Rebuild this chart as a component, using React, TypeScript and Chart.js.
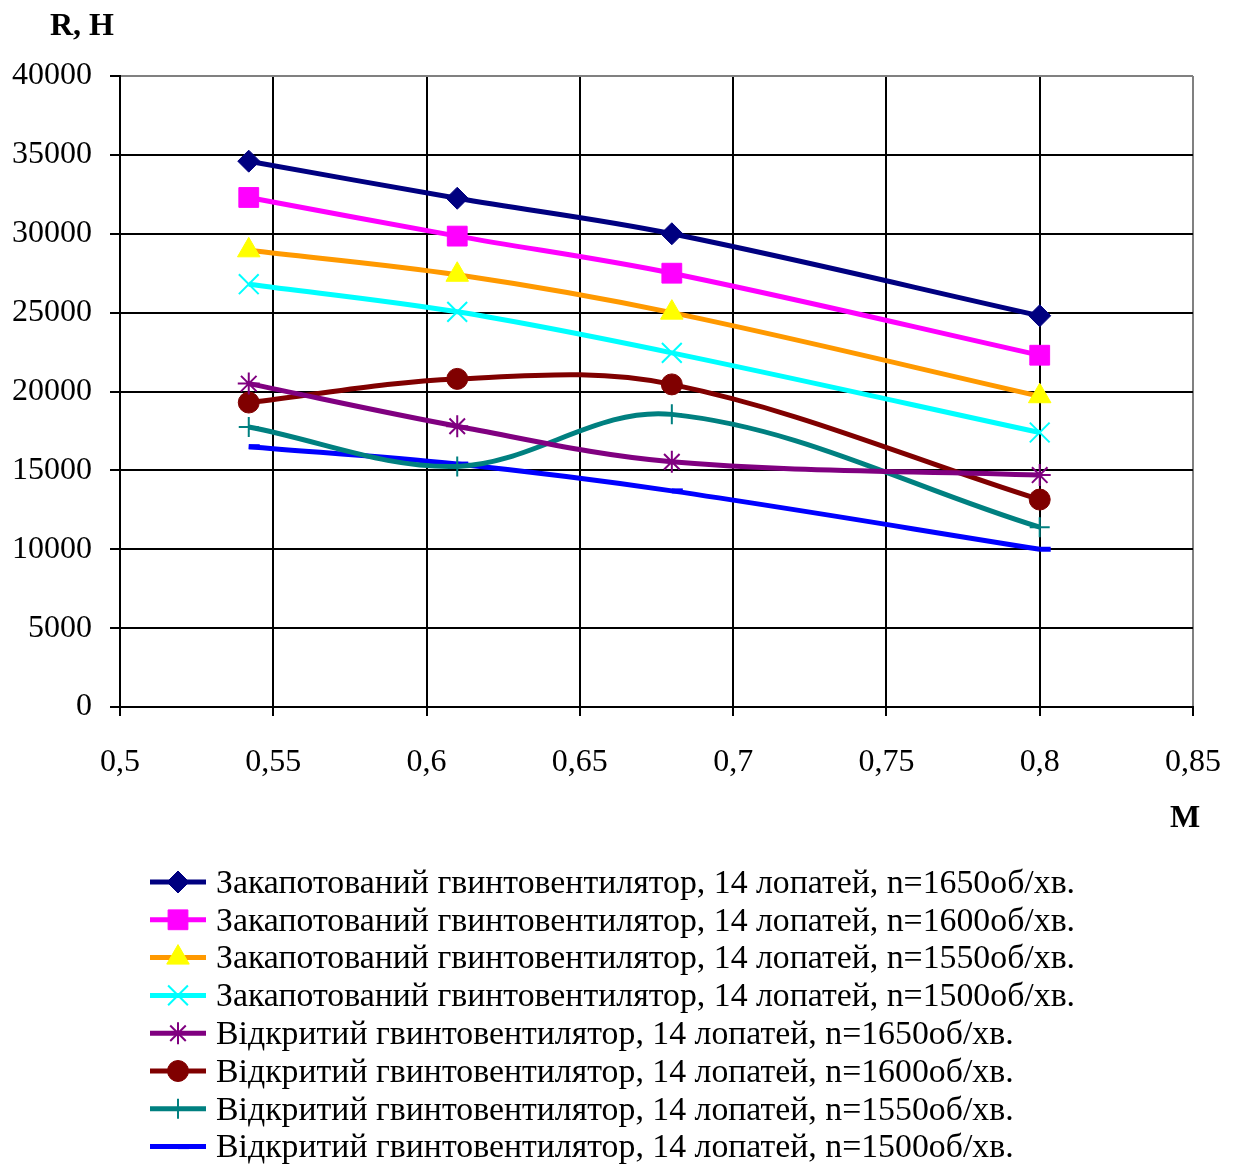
import React, { useEffect, useRef } from 'react';
import { Chart, registerables } from 'chart.js';
import { drawPoint } from 'chart.js/helpers';

Chart.register(...registerables);

// ---- data ----
const machNumbers = [0.542, 0.61, 0.68, 0.8];

const seriesLabels = [
  'Закапотований гвинтовентилятор, 14 лопатей, n=1650об/хв.',
  'Закапотований гвинтовентилятор, 14 лопатей, n=1600об/хв.',
  'Закапотований гвинтовентилятор, 14 лопатей, n=1550об/хв.',
  'Закапотований гвинтовентилятор, 14 лопатей, n=1500об/хв.',
  'Відкритий гвинтовентилятор, 14 лопатей, n=1650об/хв.',
  'Відкритий гвинтовентилятор, 14 лопатей, n=1600об/хв.',
  'Відкритий гвинтовентилятор, 14 лопатей, n=1550об/хв.',
  'Відкритий гвинтовентилятор, 14 лопатей, n=1500об/хв.',
];

const ducted1650 = [34600, 32250, 30000, 24800];
const ducted1600 = [32300, 29850, 27500, 22300];
const ducted1550 = [28950, 27400, 25000, 19700];
const ducted1500 = [26800, 25050, 22450, 17400];
const open1650 = [20500, 17800, 15550, 14700];
const open1600 = [19300, 20800, 20450, 13150];
const open1550 = [17750, 15250, 18550, 11400];
const open1500 = [16500, 15400, 13700, 10000];

const seriesValues = [ducted1650, ducted1600, ducted1550, ducted1500, open1650, open1600, open1550, open1500];

const lineColors = ['#000080', '#FF00FF', '#FF9900', '#00FFFF', '#800080', '#800000', '#008080', '#0000FF'];
const markerFill = ['#000080', '#FF00FF', '#FFFF00', '#00FFFF', '#800080', '#800000', '#008080', '#0000FF'];
const markerStyles = ['rectRot', 'rect', 'triangle', 'crossRot', 'star', 'circle', 'cross', 'dash'];
const markerRadius = [11, 14, 13, 14, 11, 10.5, 10, 11];
const markerBorder = [1, 1, 1, 2, 2, 1, 2, 5];

const yTitle = 'R, H';
const xTitle = 'M';

const FONT = '"Liberation Serif", "Times New Roman", serif';

const overlayPlugin = {
  id: 'overlay',
  afterDraw(chart: any) {
    const ctx = chart.ctx;
    ctx.save();
    // axis titles
    ctx.fillStyle = '#000';
    ctx.font = `bold 32px ${FONT}`;
    ctx.textAlign = 'center';
    ctx.textBaseline = 'middle';
    ctx.fillText(yTitle, 82, 27);
    ctx.fillText(xTitle, 1185, 819);
    // legend
    chart.data.datasets.forEach((ds: any, i: number) => {
      const y = 882 + i * 37.8;
      ctx.strokeStyle = ds.borderColor;
      ctx.lineWidth = 5;
      ctx.lineCap = 'butt';
      ctx.beginPath();
      ctx.moveTo(150, y);
      ctx.lineTo(206, y);
      ctx.stroke();
      ctx.fillStyle = ds.pointBackgroundColor;
      ctx.strokeStyle = ds.pointBorderColor;
      ctx.lineWidth = ds.pointBorderWidth;
      drawPoint(ctx, { pointStyle: ds.pointStyle, radius: ds.pointRadius, rotation: 0, borderWidth: ds.pointBorderWidth } as any, 178, y);
      ctx.fillStyle = '#000';
      ctx.font = `33.8px ${FONT}`;
      ctx.textAlign = 'left';
      ctx.textBaseline = 'middle';
      ctx.fillText(ds.label, 216, y + 2);
    });
    ctx.restore();
  },
};

export default function App() {
  const ref = useRef<HTMLCanvasElement | null>(null);
  useEffect(() => {
    if (!ref.current) return;
    const datasets = seriesValues.map((vals, i) => ({
      label: seriesLabels[i],
      data: vals.map((v, j) => ({ x: machNumbers[j], y: v })),
      borderColor: lineColors[i],
      backgroundColor: lineColors[i],
      borderWidth: 5,
      tension: 0.35,
      pointStyle: markerStyles[i],
      pointRadius: markerRadius[i],
      pointHoverRadius: markerRadius[i],
      pointBackgroundColor: markerFill[i],
      pointBorderColor: markerFill[i],
      pointBorderWidth: markerBorder[i],
      fill: false,
    }));
    const chart = new Chart(ref.current, {
      type: 'line',
      data: { datasets },
      plugins: [overlayPlugin],
      options: {
        responsive: false,
        animation: false,
        events: [],
        layout: { padding: { left: 0, top: 76, right: 44, bottom: 368 } },
        plugins: { legend: { display: false }, tooltip: { enabled: false } },
        scales: {
          x: {
            type: 'linear',
            min: 0.5,
            max: 0.85,
            afterFit: (s: any) => { s.height = 90; s.paddingLeft = 0; s.paddingRight = 0; },
            ticks: {
              stepSize: 0.05,
              color: '#000',
              padding: 27,
              font: { family: FONT, size: 32 },
              callback: (v: any) => String(Math.round(Number(v) * 100) / 100).replace('.', ','),
            },
            grid: {
              color: (c: any) => (c.tick && Math.abs(c.tick.value - 0.85) < 1e-6 ? '#808080' : '#000000'),
              lineWidth: 2,
              tickLength: 9,
              tickColor: '#000000',
            },
            border: { color: '#000000', width: 2 },
          },
          y: {
            type: 'linear',
            min: 0,
            max: 40000,
            afterFit: (s: any) => { s.width = 120; s.paddingTop = 0; s.paddingBottom = 0; },
            ticks: {
              stepSize: 5000,
              color: '#000',
              padding: 18,
              font: { family: FONT, size: 32 },
              callback: (v: any) => String(v),
            },
            grid: {
              color: (c: any) => (c.tick && c.tick.value === 40000 ? '#808080' : '#000000'),
              lineWidth: 2,
              tickLength: 10,
              tickColor: '#000000',
            },
            border: { color: '#000000', width: 2 },
          },
        },
      },
    } as any);
    return () => chart.destroy();
  }, []);
  return (
    <div style={{ position: 'absolute', left: 0, top: 0, width: 1237, height: 1165, background: '#fff' }}>
      <canvas ref={ref} width={1237} height={1165} style={{ width: 1237, height: 1165, display: 'block' }} />
    </div>
  );
}
